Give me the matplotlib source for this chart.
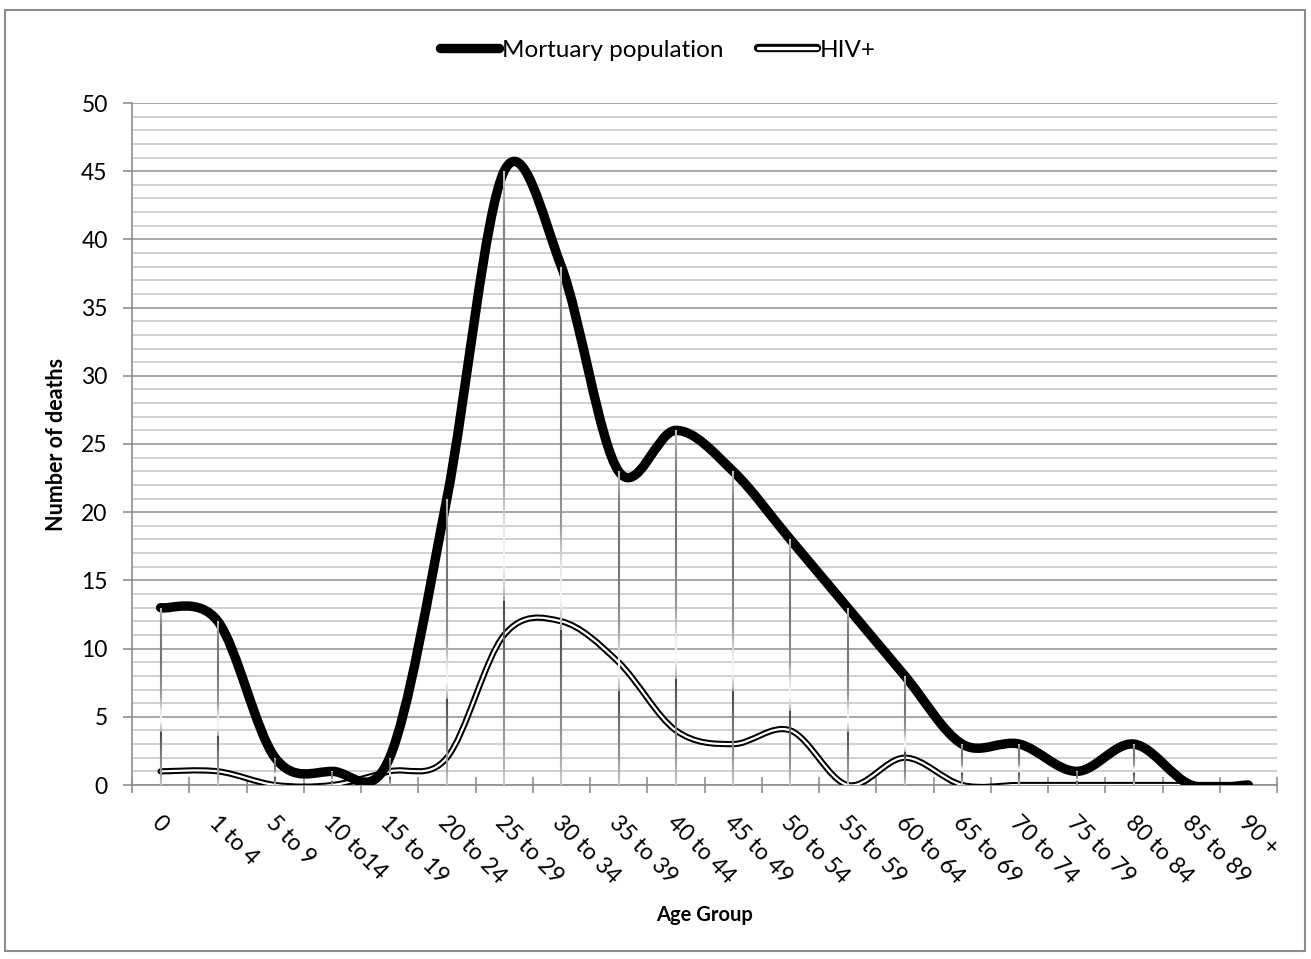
import numpy as np
import matplotlib
matplotlib.use("Agg")
import matplotlib.pyplot as plt
from matplotlib.path import Path
from matplotlib.patches import PathPatch, Rectangle
from matplotlib.collections import LineCollection
from matplotlib.lines import Line2D
from matplotlib.legend_handler import HandlerTuple
from matplotlib.ticker import MultipleLocator

age_groups = ["0", "1 to 4", "5 to 9", "10 to14", "15 to 19", "20 to 24",
              "25 to 29", "30 to 34", "35 to 39", "40 to 44", "45 to 49",
              "50 to 54", "55 to 59", "60 to 64", "65 to 69", "70 to 74",
              "75 to 79", "80 to 84", "85 to 89", "90 +"]
mortuary = [13, 12, 2, 1, 2, 21, 45, 38, 23, 26, 23, 18, 13, 8, 3, 3, 1, 3, 0, 0]
hiv_pos = [1, 1, 0, 0, 1, 2, 11, 12, 9, 4, 3, 4, 0, 2, 0, 0, 0, 0, 0, 0]

plt.rcParams["font.family"] = ["Lato", "DejaVu Sans"]

fig = plt.figure(figsize=(13.11, 9.59), dpi=100)
fig.patches.append(Rectangle((5 / 1311, 1 - 951 / 959), 1300 / 1311, 941 / 959,
                             transform=fig.transFigure, fill=False,
                             edgecolor="#8c8c8c", linewidth=1.5))
ax = fig.add_axes([132 / 1311, 1 - 785 / 959, (1277 - 132) / 1311, (785 - 103) / 959])

n = len(age_groups)
xs = np.arange(n)


def smooth_path(x, y):
    """Bezier path through the points, with Catmull-Rom style handles."""
    pts = np.column_stack([x, y]).astype(float)
    ext = np.vstack([pts[0], pts, pts[-1]])
    verts = [pts[0]]
    codes = [Path.MOVETO]
    for i in range(len(pts) - 1):
        p0, p1, p2, p3 = ext[i], ext[i + 1], ext[i + 2], ext[i + 3]
        c1 = p1 + (p2 - p0) / 6.0
        c2 = p2 - (p3 - p1) / 6.0
        verts += [c1, c2, p2]
        codes += [Path.CURVE4] * 3
    return Path(verts, codes)


# axes, ticks and gridlines
ax.set_xlim(-0.5, n - 0.5)
ax.set_ylim(0, 50)
ax.yaxis.set_major_locator(MultipleLocator(5))
ax.yaxis.set_minor_locator(MultipleLocator(1))
ax.grid(which="minor", axis="y", color="#c4c4c4", linewidth=1.1)
ax.grid(which="major", axis="y", color="#8e8e8e", linewidth=1.1)
ax.set_axisbelow(True)

for side in ["top", "right"]:
    ax.spines[side].set_visible(False)
for side in ["left", "bottom"]:
    ax.spines[side].set_color("#8e8e8e")
    ax.spines[side].set_linewidth(1.2)

ax.set_xticks(np.arange(-0.5, n, 1.0))
ax.set_xticklabels([])
ax.tick_params(axis="x", which="major", direction="inout", length=12,
               color="#8e8e8e", width=1.2)
ax.tick_params(axis="y", which="major", direction="out", length=6.5,
               color="#8e8e8e", width=1.2, labelsize=16.5, pad=11)
ax.tick_params(axis="y", which="minor", length=0)
ax.set_yticks(np.arange(0, 51, 5))

# HIV+ as a double line
hiv_path = smooth_path(xs, hiv_pos)
ax.add_patch(PathPatch(hiv_path, facecolor="none", edgecolor="black",
                       linewidth=4.5, capstyle="round", joinstyle="round", zorder=3))
ax.add_patch(PathPatch(hiv_path, facecolor="none", edgecolor="white",
                       linewidth=1.6, capstyle="round", joinstyle="round", zorder=3.1))

# Mortuary population
mort_path = smooth_path(xs, mortuary)
ax.add_patch(PathPatch(mort_path, facecolor="none", edgecolor="black",
                       linewidth=6.8, capstyle="round", joinstyle="round", zorder=4))

# gradient drop lines from each mortuary point to the axis
stops_f = [0.00, 0.08, 0.20, 0.30, 0.305, 0.36, 0.42, 0.50, 0.70, 0.90, 1.00]
stops_g = [0.80, 0.60, 0.45, 0.28, 0.70, 0.98, 0.90, 0.60, 0.45, 0.50, 0.75]
segs, cols = [], []
for x, v in zip(xs, mortuary):
    if v <= 0:
        continue
    m = 120
    f = np.linspace(0, 1, m + 1)
    yv = f * v
    g = np.interp((f[:-1] + f[1:]) / 2, stops_f, stops_g)
    for k in range(m):
        segs.append([(x, yv[k]), (x, yv[k + 1])])
        cols.append((g[k], g[k], g[k]))
ax.add_collection(LineCollection(segs, colors=cols, linewidths=1.5,
                                 capstyle="butt", zorder=5))

# category labels
for x, lab in zip(xs, age_groups):
    ax.annotate(lab, xy=(x, 0), xycoords=("data", "axes fraction"),
                xytext=(-4, -25), textcoords="offset points",
                rotation=-45, rotation_mode="anchor", ha="left", va="center",
                fontsize=16.5)

ax.set_ylabel("Number of deaths", fontsize=15.5, fontweight="bold", labelpad=10)
fig.text(705 / 1311, 1 - 915 / 959, "Age Group", fontsize=14.5,
         fontweight="bold", ha="center", va="center")

h_mort = Line2D([], [], color="black", linewidth=6.8, solid_capstyle="round")
h_hiv_o = Line2D([], [], color="black", linewidth=6.0, solid_capstyle="round")
h_hiv_i = Line2D([], [], color="white", linewidth=2.4, solid_capstyle="round")
fig.legend([h_mort, (h_hiv_o, h_hiv_i)], ["Mortuary population", "HIV+"],
           handler_map={tuple: HandlerTuple(ndivide=1, pad=0)},
           loc="center", bbox_to_anchor=(658 / 1311, 1 - 50 / 959), ncol=2,
           frameon=False, fontsize=17.5, handlelength=2.4, handletextpad=0.12,
           columnspacing=1.45, borderpad=0)

fig.savefig("out.png", dpi=100)
